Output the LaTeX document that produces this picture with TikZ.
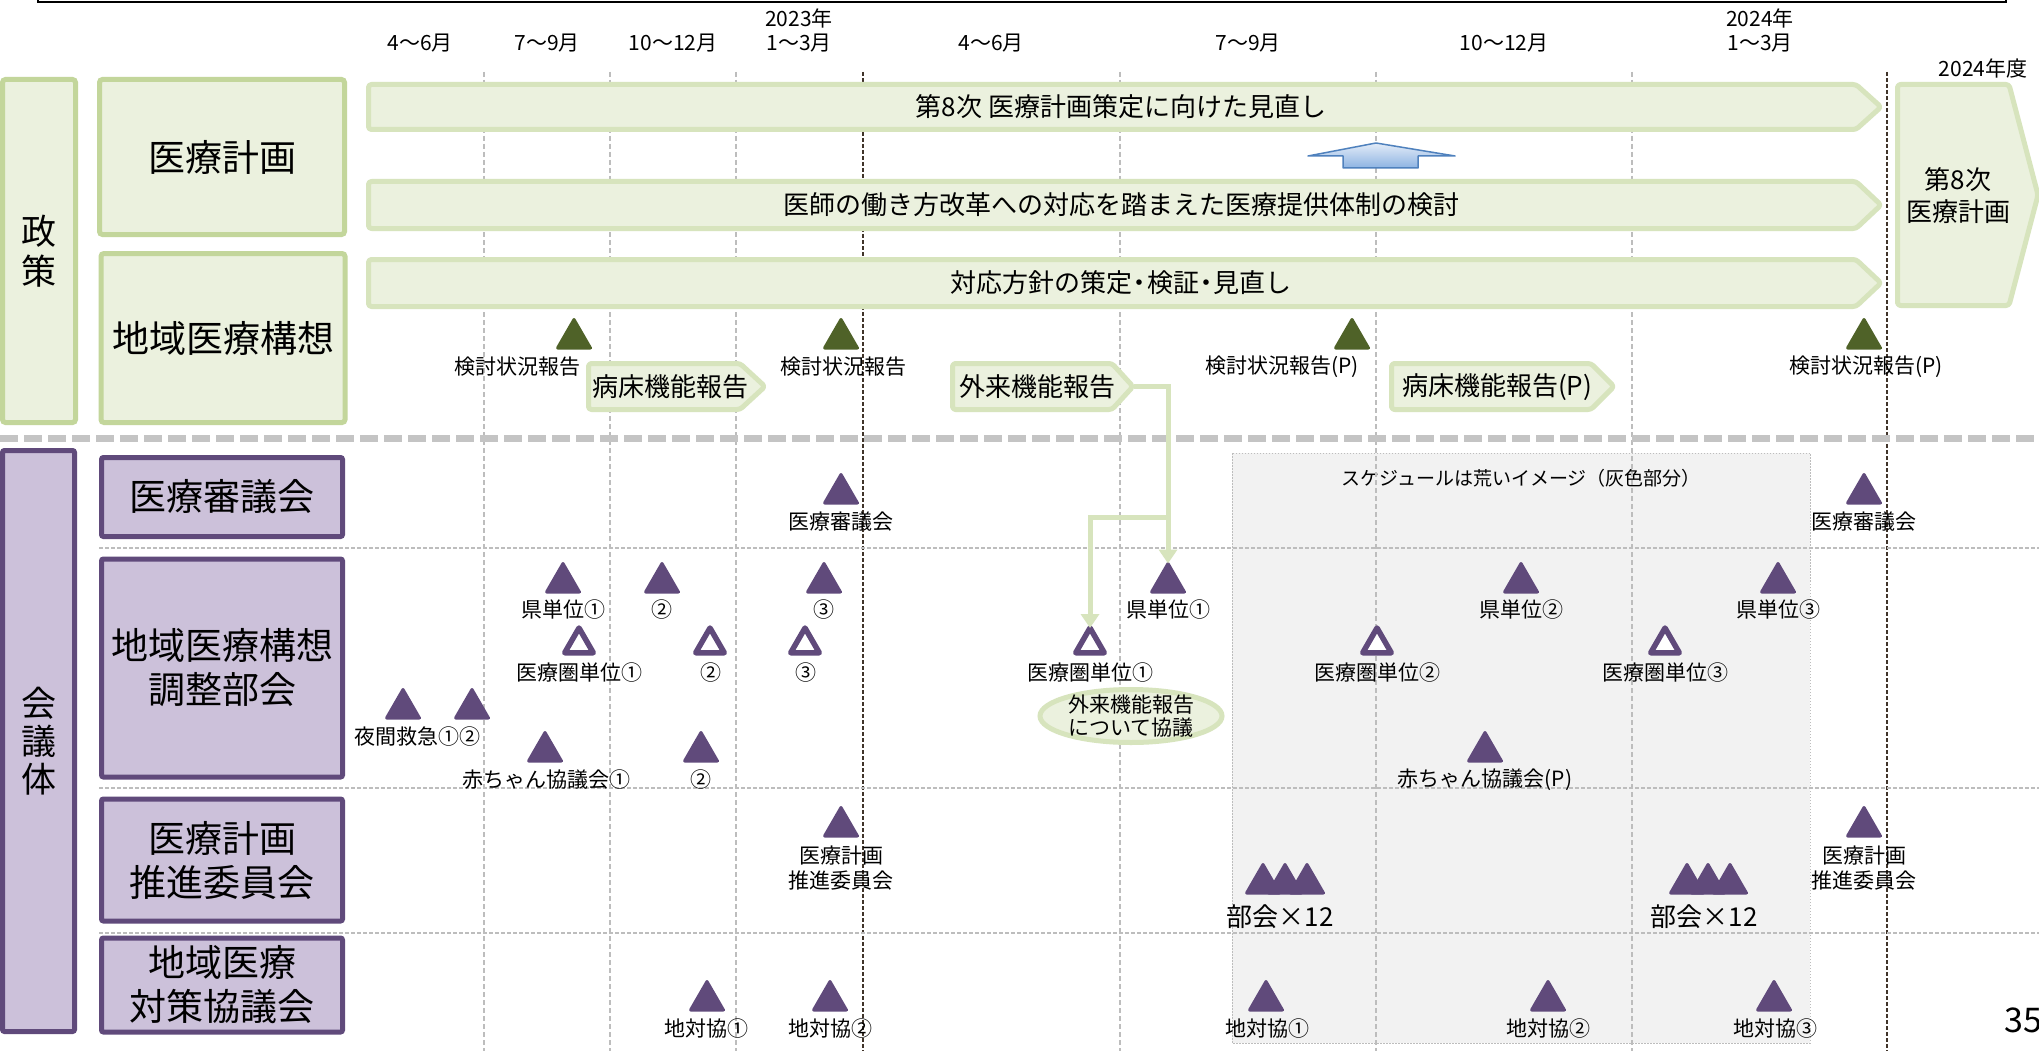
\documentclass[tikz,border=0pt]{standalone}
\usepackage{fontspec}
\setmainfont{Noto Sans CJK JP}
\usetikzlibrary{shapes.geometric,arrows.meta}
\definecolor{gfill}{HTML}{EBF1DE}
\definecolor{gline}{HTML}{D7E4BD}
\definecolor{gbord}{HTML}{C3D69B}
\definecolor{purp}{HTML}{604A7B}
\definecolor{pfill}{HTML}{CCC1DA}
\definecolor{tgreen}{HTML}{4F6228}
\definecolor{gridc}{HTML}{BDBDBD}
\definecolor{sepc}{HTML}{C4C4C4}
\definecolor{darkc}{HTML}{40342A}
\definecolor{schg}{HTML}{F2F2F2}
\definecolor{blueline}{HTML}{4F81BD}
\definecolor{bluetop}{HTML}{E3ECF8}
\definecolor{bluebot}{HTML}{8DB3E2}
\newcommand\ndot{\makebox[0.55em]{・}}
\tikzset{
  vgrid/.style={draw=gridc, line width=1.5pt, dash pattern=on 5pt off 3pt},
  vdark/.style={draw=darkc, line width=1.6pt, dash pattern=on 4pt off 2pt},
  rowsep/.style={draw=gridc, line width=1.5pt, dash pattern=on 4pt off 2pt},
  mainsep/.style={draw=sepc, line width=7pt, dash pattern=on 18pt off 6pt},
  gbox/.style={draw=gbord, fill=gfill, line width=5pt, rounded corners=3pt, inner sep=0pt, outer sep=0pt},
  pbox/.style={draw=purp, fill=pfill, line width=5pt, rounded corners=2pt, inner sep=0pt, outer sep=0pt},
  bar/.style={draw=gline, fill=gfill, line width=5pt, rounded corners=3pt, line join=round},
  bigt/.style={font=\fontsize{37}{44}\selectfont, align=center},
  bart/.style={font=\fontsize{26}{29}\selectfont, align=center, inner sep=0pt},
  lab/.style={font=\fontsize{21}{25}\selectfont, align=center, inner sep=0pt},
  mon/.style={font=\fontsize{21}{25}\selectfont, inner sep=0pt},
  ptri/.style={regular polygon, regular polygon sides=3, minimum size=38pt, inner sep=0pt, outer sep=0pt, fill=purp, draw=purp, line width=3pt, line join=round},
  gtri/.style={ptri, fill=tgreen, draw=tgreen},
  htri/.style={regular polygon, regular polygon sides=3, minimum size=33pt, inner sep=0pt, outer sep=0pt, fill=white, draw=purp, line width=5.5pt, line join=round},
  conn/.style={draw=gline, line width=5pt, -{Triangle[width=18pt,length=14pt]}},
}
\begin{document}
\begin{tikzpicture}[x=1pt,y=-1pt]
\useasboundingbox (0,0) rectangle (2039,1051);
\clip (0,0) rectangle (2039,1051);
\fill[white] (0,0) rectangle (2039,1051);

% top frame
\draw[line width=2pt] (38,-10) -- (38,2) -- (2006,2) -- (2006,-10);

% schedule region
\draw[fill=schg, draw=gridc, line width=1pt, dash pattern=on 1.5pt off 1.5pt] (1232,453) rectangle (1810,1043);
\node[font=\fontsize{19}{23}\selectfont, inner sep=0pt] (sched) at (1521,478) {スケジュールは荒いイメージ（灰色部分）};

% grid
\foreach \x in {484,610,736,1120,1376,1632} \draw[vgrid] (\x,72) -- (\x,1051);
\foreach \x in {863,1887} \draw[vdark] (\x,72) -- (\x,1051);
\foreach \y in {548,788,933} \draw[rowsep] (99,\y) -- (2039,\y);
\draw[mainsep] (0,438) -- (2039,438);

% headers
\node[mon] (y23) at (799,18) {2023年};
\node[mon] (y24) at (1760,18) {2024年};
\node[mon] (m1) at (420,43) {4～6月};
\node[mon] (m2) at (547,43) {7～9月};
\node[mon] (m3) at (673,43) {10～12月};
\node[mon] (m4) at (799,43) {1～3月};
\node[mon] (m5) at (991,43) {4～6月};
\node[mon] (m6) at (1248,43) {7～9月};
\node[mon] (m7) at (1504,43) {10～12月};
\node[mon] (m8) at (1760,43) {1～3月};
\node[mon] (fy24) at (1983,69) {2024年度};

% left boxes
\node[gbox, minimum width=73pt, minimum height=343pt, font=\fontsize{35}{40}\selectfont, align=center] (seisaku) at (39,251) {政\\策};
\node[gbox, minimum width=245pt, minimum height=155pt, bigt] (iryokeikaku) at (222,157) {医療計画};
\node[gbox, minimum width=244pt, minimum height=169pt, bigt] (chiiki) at (223,338) {地域医療構想};
\node[pbox, minimum width=72pt, minimum height=581pt, font=\fontsize{35}{38}\selectfont, align=center] (kaigitai) at (38.5,741) {会\\議\\体};
\node[pbox, minimum width=241pt, minimum height=79pt, bigt] (shingikai) at (222,497) {医療審議会};
\node[pbox, minimum width=241pt, minimum height=218pt, bigt] (chosei) at (222,668) {地域医療構想\\調整部会};
\node[pbox, minimum width=241pt, minimum height=122pt, bigt] (suishin) at (222,860) {医療計画\\推進委員会};
\node[pbox, minimum width=241pt, minimum height=94pt, bigt] (taisaku) at (222,985) {地域医療\\対策協議会};

% bars
\draw[bar] (368.5,84.5) -- (1856,84.5) -- (1881,107) -- (1856,129.5) -- (368.5,129.5) -- cycle;
\node[bart] (b1) at (1121,107) {第8次 医療計画策定に向けた見直し};
\draw[bar] (368.5,181.5) -- (1856,181.5) -- (1881,205) -- (1856,228.5) -- (368.5,228.5) -- cycle;
\node[bart] (b2) at (1121,205) {医師の働き方改革への対応を踏まえた医療提供体制の検討};
\draw[bar] (368.5,259.5) -- (1856,259.5) -- (1881,283) -- (1856,306.5) -- (368.5,306.5) -- cycle;
\node[bart] (b3) at (1121,283) {対応方針の策定\ndot 検証\ndot 見直し};
\draw[bar] (1897.5,84.5) -- (2009,84.5) -- (2038,195) -- (2009,305.5) -- (1897.5,305.5) -- cycle;
\node[bart, font=\fontsize{26}{32}\selectfont] (dai8) at (1958,196) {第8次\\医療計画};

% blue up arrow
\draw[draw=blueline, line width=1.5pt, top color=bluetop, bottom color=bluebot, line join=round]
  (1376,143) -- (1455,156) -- (1418,156) -- (1418,168) -- (1343,168) -- (1343,156) -- (1308,156) -- cycle;

% green markers
\foreach \x/\n in {574/g1,841/g2,1352/g3,1864/g4} \node[gtri] (\n) at (\x,338.5) {};
\node[lab] (kg1) at (517,367) {検討状況報告};
\node[lab] (kg2) at (843,367) {検討状況報告};
\node[lab] (kg3) at (1282,367) {検討状況報告(P)};
\node[lab] (kg4) at (1866,367) {検討状況報告(P)};

% small report arrows
\draw[bar] (588.5,363.5) -- (740,363.5) -- (765,386.5) -- (740,409.5) -- (588.5,409.5) -- cycle;
\node[bart] (byosho) at (670,387) {病床機能報告};
\draw[bar] (952.5,363.5) -- (1112,363.5) -- (1133,386.5) -- (1112,409.5) -- (952.5,409.5) -- cycle;
\node[bart] (gairai) at (1037,387) {外来機能報告};
\coordinate (gtip) at (1134,386.5);
\draw[bar] (1391.5,363.5) -- (1591,363.5) -- (1614,386.5) -- (1591,409.5) -- (1391.5,409.5) -- cycle;
\node[bart] (byoshoP) at (1497,387) {病床機能報告(P)};

% purple markers
\foreach \x/\n in {841/s1,1864/s2} \node[ptri] (\n) at (\x,493.5) {};
\node[lab] (ls1) at (841,522) {医療審議会};
\node[lab] (ls2) at (1864,522) {医療審議会};

\foreach \x/\n in {563/k1,662/k2,824/k3,1168/ken1,1521/k5,1778/k6} \node[ptri] (\n) at (\x,582.5) {};
\node[lab] (lk1) at (563,610) {県単位①};
\node[lab] (lk2) at (662,610) {②};
\node[lab] (lk3) at (824,610) {③};
\node[lab] (lk4) at (1168,610) {県単位①};
\node[lab] (lk5) at (1521,610) {県単位②};
\node[lab] (lk6) at (1778,610) {県単位③};

\foreach \x/\n in {579/h1,710/h2,805/h3,1090/kh1,1377/h5,1665/h6} \node[htri] (\n) at (\x,644.5) {};
\node[lab] (lh1) at (579,673) {医療圏単位①};
\node[lab] (lh2) at (711,673) {②};
\node[lab] (lh3) at (806,673) {③};
\node[lab] (lh4) at (1090,673) {医療圏単位①};
\node[lab] (lh5) at (1377,673) {医療圏単位②};
\node[lab] (lh6) at (1665,673) {医療圏単位③};

\foreach \x/\n in {403/y1,472/y2} \node[ptri] (\n) at (\x,708.5) {};
\node[lab] (ly) at (417,737) {夜間救急①②};

\foreach \x/\n in {545/a1,701/a2,1485/a3} \node[ptri] (\n) at (\x,751.5) {};
\node[lab] (la1) at (546,780) {赤ちゃん協議会①};
\node[lab] (la2) at (701,780) {②};
\node[lab] (la3) at (1485,780) {赤ちゃん協議会(P)};

\foreach \x/\n in {841/p1,1864/p2} \node[ptri] (\n) at (\x,826.5) {};
\node[lab] (lp1) at (841,868.5) {医療計画\\推進委員会};
\node[lab] (lp2) at (1864,868.5) {医療計画\\推進委員会};

\foreach \x/\n in {1263/bk1,1285/bk2,1307/bk3,1687/bk4,1708/bk5,1730/bk6} \node[ptri] (\n) at (\x,883.5) {};
\node[font=\fontsize{26}{30}\selectfont, inner sep=0pt] (lb1) at (1280,917) {部会×12};
\node[font=\fontsize{26}{30}\selectfont, inner sep=0pt] (lb2) at (1704,917) {部会×12};

\foreach \x/\n in {707/t1,830/t2,1266/t3,1548/t4,1774/t5} \node[ptri] (\n) at (\x,1000.5) {};
\node[lab] (lt1) at (706,1029) {地対協①};
\node[lab] (lt2) at (830,1029) {地対協②};
\node[lab] (lt3) at (1267,1029) {地対協①};
\node[lab] (lt4) at (1548,1029) {地対協②};
\node[lab] (lt5) at (1775,1029) {地対協③};

% connectors
\coordinate (gbr) at (1168,517);
\draw[conn] (gtip) -| (ken1.north);
\draw[conn] (gbr) -| (kh1.north);

% ellipse
\node[ellipse, draw=gline, fill=gfill, line width=5pt, minimum width=182pt, minimum height=53pt, inner sep=0pt] (ell) at (1131,716) {};
\node[lab, font=\fontsize{21}{23}\selectfont] (elltxt) at (ell.center) {外来機能報告\\について協議};

% page number
\node[font=\fontsize{34}{38}\selectfont, anchor=west, inner sep=0pt] (pg) at (2004,1020) {35};
\end{tikzpicture}
\end{document}
